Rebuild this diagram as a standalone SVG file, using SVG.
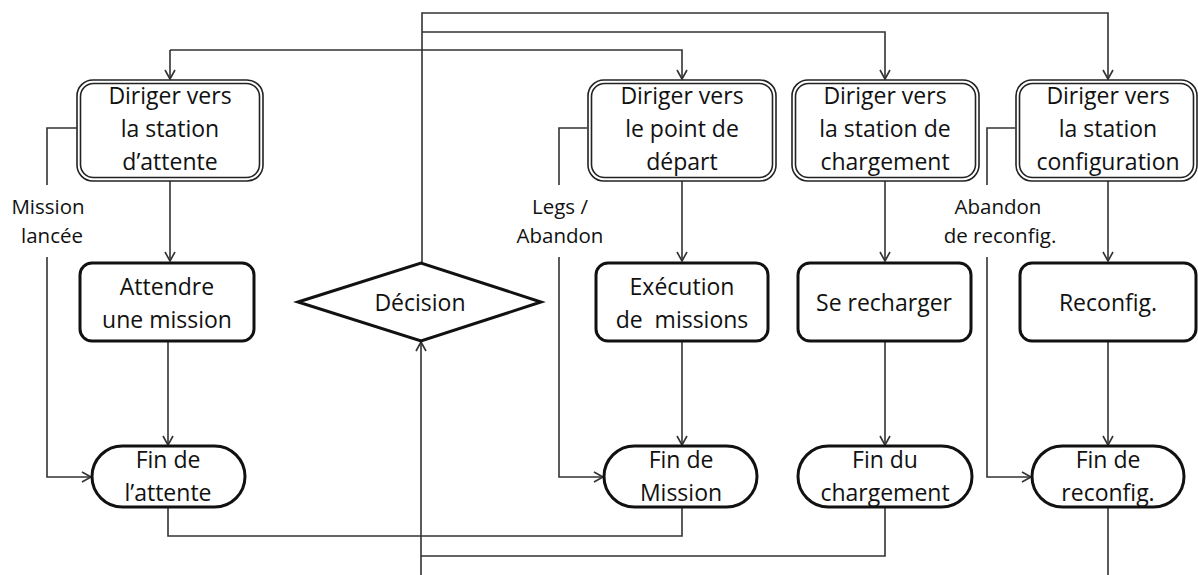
<svg xmlns="http://www.w3.org/2000/svg" width="1198" height="575" viewBox="0 0 1198 575">
<style>
.t{font-family:"Open Sans","Liberation Sans",sans-serif;font-size:23px;fill:#111;text-anchor:middle}
.l{font-family:"Open Sans","Liberation Sans",sans-serif;font-size:20.5px;fill:#111;text-anchor:middle}
.dbl{fill:#fff;stroke:#222;stroke-width:1.6}
.box{fill:#fff;stroke:#111;stroke-width:3}
.c{fill:none;stroke:#333;stroke-width:1.6}
</style>
<defs>
<marker id="a" markerWidth="12" markerHeight="12" refX="10" refY="6" orient="auto" markerUnits="userSpaceOnUse">
<path d="M1,1 L10,6 L1,11" fill="none" stroke="#333" stroke-width="1.6"/>
</marker>
</defs>
<g id="connectors">
<path class="c" d="M422,262 V13 H1108 V79" marker-end="url(#a)"/>
<path class="c" d="M422,32 H885 V79" marker-end="url(#a)"/>
<path class="c" d="M170,50 H682 V79" marker-end="url(#a)"/>
<path class="c" d="M170,50 V79" marker-end="url(#a)"/>
<path class="c" d="M170,181 V261" marker-end="url(#a)"/>
<path class="c" d="M682,181 V261" marker-end="url(#a)"/>
<path class="c" d="M885,181 V261" marker-end="url(#a)"/>
<path class="c" d="M1108,181 V261" marker-end="url(#a)"/>
<path class="c" d="M168,342 V445" marker-end="url(#a)"/>
<path class="c" d="M682,342 V445" marker-end="url(#a)"/>
<path class="c" d="M885,342 V445" marker-end="url(#a)"/>
<path class="c" d="M1108,342 V445" marker-end="url(#a)"/>
<path class="c" d="M77,128 H47 V185"/>
<path class="c" d="M47,257 V477 H91" marker-end="url(#a)"/>
<path class="c" d="M587,128 H559 V185"/>
<path class="c" d="M559,257 V477 H603" marker-end="url(#a)"/>
<path class="c" d="M1015,128 H987 V185"/>
<path class="c" d="M987,257 V477 H1031" marker-end="url(#a)"/>
<path class="c" d="M168,508 V536 H682 V508"/>
<path class="c" d="M885,508 V556 H421"/>
<path class="c" d="M421,575 V342" marker-end="url(#a)"/>
<path class="c" d="M1108,508 V575"/>
<text class="l" x="48" y="214">Mission</text>
<text class="l" x="52" y="243">lancée</text>
<text class="l" x="560" y="214">Legs /</text>
<text class="l" x="560" y="243">Abandon</text>
<text class="l" x="998" y="214">Abandon</text>
<text class="l" x="1000" y="243">de reconfig.</text>
</g>
<g id="n1">
<rect class="dbl" x="77" y="80" width="186" height="101" rx="16"/>
<rect class="dbl" x="80.5" y="83.5" width="179" height="94" rx="13"/>
<text class="t" x="170" y="104">Diriger vers</text>
<text class="t" x="170" y="137">la station</text>
<text class="t" x="170" y="170">d’attente</text>
</g>
<g id="n2">
<rect class="dbl" x="588" y="80" width="188" height="101" rx="16"/>
<rect class="dbl" x="591.5" y="83.5" width="181" height="94" rx="13"/>
<text class="t" x="682" y="104">Diriger vers</text>
<text class="t" x="682" y="137">le point de</text>
<text class="t" x="682" y="170">départ</text>
</g>
<g id="n3">
<rect class="dbl" x="792" y="80" width="187" height="101" rx="16"/>
<rect class="dbl" x="795.5" y="83.5" width="180" height="94" rx="13"/>
<text class="t" x="885" y="104">Diriger vers</text>
<text class="t" x="885" y="137">la station de</text>
<text class="t" x="885" y="170">chargement</text>
</g>
<g id="n4">
<rect class="dbl" x="1016" y="80" width="181" height="101" rx="16"/>
<rect class="dbl" x="1019.5" y="83.5" width="174" height="94" rx="13"/>
<text class="t" x="1108" y="104">Diriger vers</text>
<text class="t" x="1108" y="137">la station</text>
<text class="t" x="1108" y="170">configuration</text>
</g>
<g id="n5">
<rect class="box" x="80" y="263" width="174" height="78" rx="12"/>
<text class="t" x="167" y="295">Attendre</text>
<text class="t" x="167" y="328">une mission</text>
</g>
<g id="n6">
<polygon points="298,302 421,263 541,302 421,341" fill="#fff" stroke="#111" stroke-width="3" stroke-linejoin="miter"/>
<text class="t" x="420" y="311">Décision</text>
</g>
<g id="n7">
<rect class="box" x="596" y="263" width="172" height="78" rx="12"/>
<text class="t" x="682" y="295">Exécution</text>
<text class="t" x="682" y="328" xml:space="preserve">de  missions</text>
</g>
<g id="n8">
<rect class="box" x="798" y="263" width="173" height="78" rx="12"/>
<text class="t" x="884" y="311">Se recharger</text>
</g>
<g id="n9">
<rect class="box" x="1020" y="263" width="176" height="78" rx="12"/>
<text class="t" x="1108" y="311">Reconfig.</text>
</g>
<g id="n10">
<rect class="box" x="92" y="446" width="153" height="61" rx="30.5"/>
<text class="t" x="168" y="468">Fin de</text>
<text class="t" x="168" y="501">l’attente</text>
</g>
<g id="n11">
<rect class="box" x="604" y="446" width="153" height="61" rx="30.5"/>
<text class="t" x="681" y="468">Fin de</text>
<text class="t" x="681" y="501">Mission</text>
</g>
<g id="n12">
<rect class="box" x="798" y="446" width="174" height="61" rx="30.5"/>
<text class="t" x="885" y="468">Fin du</text>
<text class="t" x="885" y="501">chargement</text>
</g>
<g id="n13">
<rect class="box" x="1032" y="446" width="152" height="61" rx="30.5"/>
<text class="t" x="1108" y="468">Fin de</text>
<text class="t" x="1108" y="501">reconfig.</text>
</g>
</svg>
